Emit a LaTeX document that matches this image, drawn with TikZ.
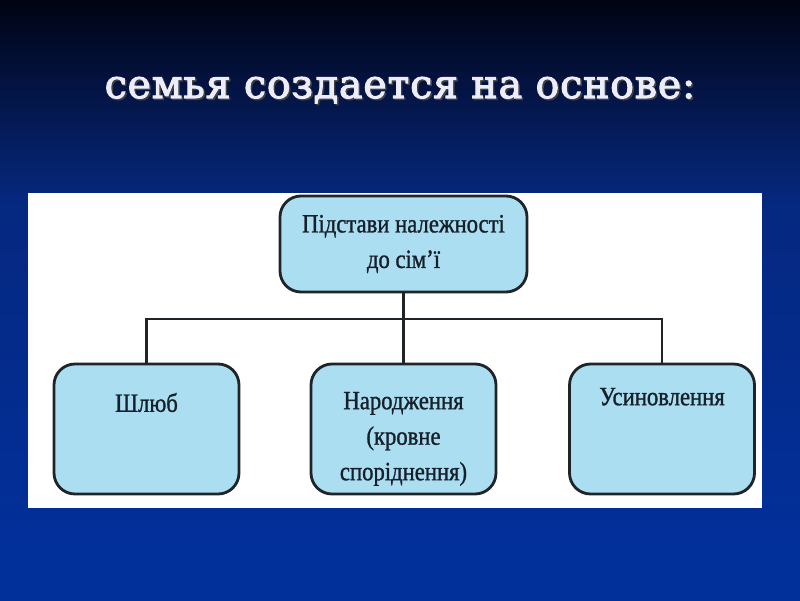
\documentclass[tikz,border=0pt]{standalone}
\usepackage{fontspec}
\setmainfont{Liberation Serif}
\newfontfamily\boxfont[FakeStretch=0.86, FakeBold=1.1]{Liberation Serif}
\newfontfamily\titlefont[FakeBold=2.6, LetterSpace=2]{DejaVu Serif}
\usetikzlibrary{positioning}

\definecolor{slidetop}{RGB}{0,4,18}
\definecolor{slideA}{RGB}{2,14,52}
\definecolor{slideB}{RGB}{5,28,90}
\definecolor{slideC}{RGB}{5,40,128}
\definecolor{slidebot}{RGB}{2,48,155}
\definecolor{boxfill}{RGB}{172,222,242}
\definecolor{boxline}{RGB}{30,36,40}
\definecolor{boxink}{RGB}{22,32,42}
\definecolor{titlewhite}{RGB}{236,236,250}

\pgfdeclareverticalshading{slide}{100bp}{color(0bp)=(slidebot); color(28bp)=(slidebot); color(58bp)=(slideC); color(64bp)=(slideB); color(70bp)=(slideA); color(75bp)=(slidetop); color(100bp)=(slidetop)}

\begin{document}
\begin{tikzpicture}[font=\boxfont\fontsize{15}{20.2}\selectfont,
  box/.style={draw=boxline, line width=1.6pt, fill=boxfill, rounded corners=0.42cm, minimum width=3.7cm, minimum height=2.6cm},
  boxtext/.style={inner sep=0pt, align=center, text=boxink},
  link/.style={draw=boxline, line width=1.2pt},
  titletext/.style={anchor=base, font=\titlefont\fontsize{22.5}{26}\selectfont}]
% slide background
\useasboundingbox (0,0) rectangle (16,12);
\shade[shading=slide] (0,0) rectangle (16,12);
% title
\node[titletext, text=black!75] (title-shadow) at (8.03,10.01) {семья создается на основе:};
\node[titletext, text=titlewhite] (title) at (8,10.04) {семья создается на основе:};
% white panel
\fill[white] (0.56,1.84) rectangle (15.24,8.14);
% boxes
\node[box, minimum width=4.94cm, minimum height=1.92cm, align=center, text=boxink] (basis) at (8.07,7.12) {Підстави належності\\до сім’ї};
\node[box] (shlub) at (2.93,3.42) {};
\node[box] (narod) at (8.07,3.42) {};
\node[box] (usyn) at (13.24,3.42) {};
\node[boxtext, below=0.6cm of shlub.north] (shlub-t) {Шлюб};
\node[boxtext, below=0.58cm of narod.north] (narod-t) {Народження\\(кровне\\споріднення)};
\node[boxtext, below=0.5cm of usyn.north] (usyn-t) {Усиновлення};
% connectors
\coordinate (bus) at (basis.south |- 0,5.62);
\draw[link] (basis.south) -- (bus);
\draw[link] (shlub.north) |- (bus) -| (usyn.north);
\draw[link] (bus) -- (narod.north);
\end{tikzpicture}
\end{document}
